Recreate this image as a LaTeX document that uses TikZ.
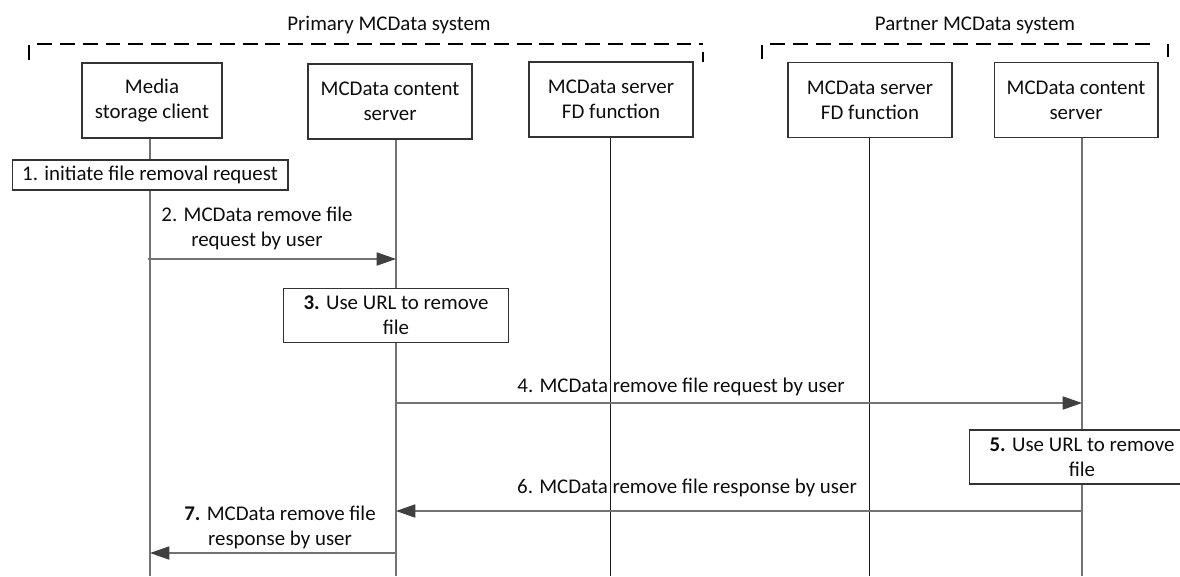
\documentclass[tikz,border=0pt]{standalone}
\usepackage{fontspec}
\setmainfont{Carlito}
\usetikzlibrary{arrows.meta}
\begin{document}
\begin{tikzpicture}[x=0.02cm,y=-0.02cm,
  every node/.style={font=\fontsize{11.9}{14.2}\selectfont, text=black!95},
  actor/.style={draw=black!80, line width=0.6pt, minimum width=3.28cm, minimum height=1.5cm, align=center, inner sep=2pt},
  stepbox/.style={draw=black!80, fill=white, line width=0.6pt, align=center, inner sep=1pt},
  lifeline/.style={draw=black!55, line width=0.7pt},
  msg/.style={draw=black!55, line width=0.7pt, -{Triangle[length=11pt,width=7.5pt,color=black!75]}},
  sysline/.style={line width=1pt, dash pattern=on 8.5pt off 4.5pt},
  sysend/.style={line width=1pt}]
\useasboundingbox (0,0) rectangle (1180,576);
% the two systems
\node (prim) at (389,25) {Primary MCData system};
\node (part) at (975,25) {Partner MCData system};
\draw[sysline] (37,44) -- (703,44);
\draw[sysend] (29,45) -- (29,60);
\draw[sysend] (703,52) -- (703,62);
\draw[sysline] (770,44) -- (1155,44);
\draw[sysend] (762,45) -- (762,59);
\draw[sysend] (1168,44) -- (1168,57);
% entities
\node[actor, minimum width=2.8cm] (msc) at (152,100.5) {Media\\storage client};
\node[actor] (pcs) at (390,101.5) {MCData content\\server};
\node[actor] (pfd) at (611,99.5) {MCData server\\FD function};
\node[actor] (xfd) at (870,100) {MCData server\\FD function};
\node[actor] (xcs) at (1076,100) {MCData content\\server};
% lifelines
\coordinate (mscEnd) at (150,576);
\coordinate (pcsEnd) at (396,576);
\coordinate (pfdEnd) at (610,576);
\coordinate (xfdEnd) at (869,576);
\coordinate (xcsEnd) at (1082,576);
\draw[lifeline] (msc.south -| mscEnd) -- (mscEnd);
\draw[lifeline] (pcs.south -| pcsEnd) -- (pcsEnd);
\draw[lifeline, draw=black!90, line width=0.5pt] (pfd.south -| pfdEnd) -- (pfdEnd);
\draw[lifeline, draw=black!90, line width=0.5pt] (xfd.south -| xfdEnd) -- (xfdEnd);
\draw[lifeline] (xcs.south -| xcsEnd) -- (xcsEnd);
% steps
\node[stepbox, minimum width=5.52cm, minimum height=0.6cm] (s1) at (150,175) {1. initiate file removal request};
\node[stepbox, minimum width=4.5cm, minimum height=1.08cm] (s3) at (396,315.5) {\textbf{3.} Use URL to remove\\file};
\node[stepbox, minimum width=4.5cm, minimum height=1.08cm] (s5) at (1082,457) {\textbf{5.} Use URL to remove\\file};
% messages
\coordinate (m2) at (148,259);
\coordinate (m4) at (0,403);
\coordinate (m6) at (0,511);
\coordinate (m7) at (0,553);
\draw[msg] (m2) -- (pcsEnd |- m2);
\draw[msg] (pcsEnd |- m4) -- (xcsEnd |- m4);
\draw[msg] (xcsEnd |- m6) -- (pcsEnd |- m6);
\draw[msg] (pcsEnd |- m7) -- (mscEnd |- m7);
\node[align=center] (l2) at (257,228) {2. MCData remove file\\request by user};
\node (l4) at (681,387) {4. MCData remove file request by user};
\node (l6) at (687,488) {6. MCData remove file response by user};
\node[align=center] (l7) at (280,527) {\textbf{7.} MCData remove file\\response by user};
\end{tikzpicture}
\end{document}
